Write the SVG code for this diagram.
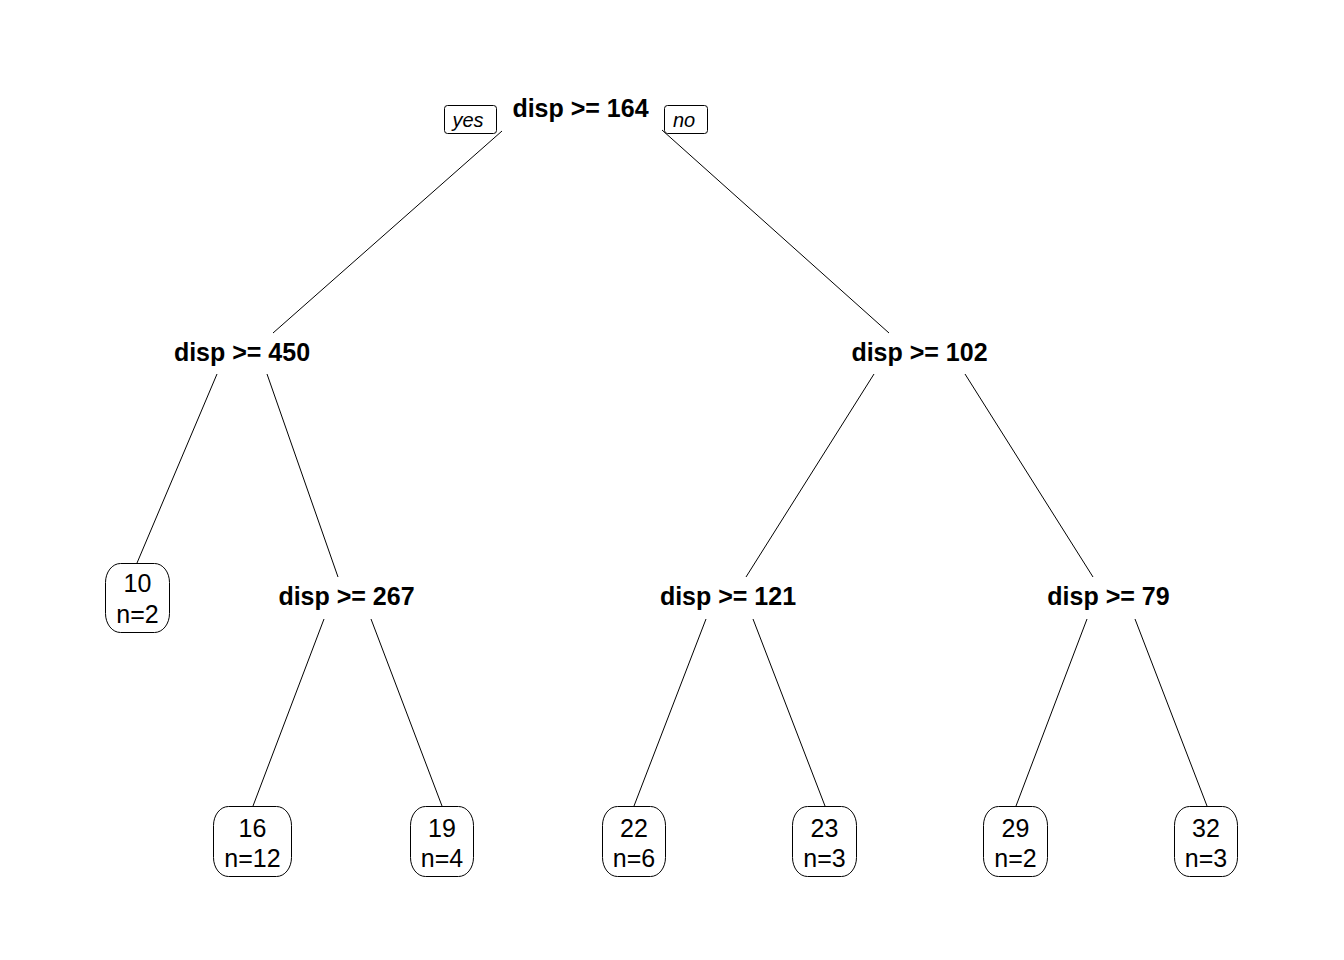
<svg xmlns="http://www.w3.org/2000/svg" width="1344" height="960" viewBox="0 0 1344 960">
<style>
.split{font-family:"Liberation Sans",Arial,sans-serif;font-size:25px;font-weight:bold;text-anchor:middle;fill:#000}
.leaf{font-family:"Liberation Sans",Arial,sans-serif;font-size:25px;text-anchor:middle;fill:#000}
.yn{font-family:"Liberation Sans",Arial,sans-serif;font-size:20px;font-style:italic;text-anchor:middle;fill:#000}
.box{fill:#fff;stroke:#000;stroke-width:1}
.edge{stroke:#000;stroke-width:1;fill:none}
</style>
<rect width="1344" height="960" fill="#fff"/>
<g id="connectors">
<line class="edge" x1="502" y1="131" x2="273" y2="333"/>
<line class="edge" x1="662" y1="130" x2="889" y2="333"/>
<line class="edge" x1="217" y1="374" x2="137" y2="563"/>
<line class="edge" x1="267" y1="374" x2="338" y2="577"/>
<line class="edge" x1="874" y1="374" x2="746" y2="577"/>
<line class="edge" x1="965" y1="374" x2="1093" y2="577"/>
<line class="edge" x1="324" y1="619" x2="253" y2="806"/>
<line class="edge" x1="371" y1="619" x2="442" y2="806"/>
<line class="edge" x1="706" y1="619" x2="634" y2="806"/>
<line class="edge" x1="753" y1="619" x2="825" y2="806"/>
<line class="edge" x1="1087" y1="619" x2="1016" y2="806"/>
<line class="edge" x1="1135" y1="619" x2="1207" y2="806"/>
</g>
<g id="node-root">
<text class="split" x="580.5" y="117">disp &gt;= 164</text>
</g>
<g id="label-yes">
<rect class="box" x="444.5" y="105.5" width="52" height="28" rx="3"/>
<text class="yn" x="468" y="127">yes</text>
</g>
<g id="label-no">
<rect class="box" x="664.5" y="105.5" width="43" height="28" rx="3"/>
<text class="yn" x="684" y="127">no</text>
</g>
<g id="node-450">
<text class="split" x="242" y="361">disp &gt;= 450</text>
</g>
<g id="node-102">
<text class="split" x="919.5" y="361">disp &gt;= 102</text>
</g>
<g id="node-267">
<text class="split" x="346.5" y="605">disp &gt;= 267</text>
</g>
<g id="node-121">
<text class="split" x="728" y="605">disp &gt;= 121</text>
</g>
<g id="node-79">
<text class="split" x="1108.5" y="605">disp &gt;= 79</text>
</g>
<g id="leaf-10">
<rect class="box" x="105.5" y="563.5" width="64" height="69" rx="15" ry="19"/>
<text class="leaf" x="137.5" y="592">10</text>
<text class="leaf" x="137.5" y="623">n=2</text>
</g>
<g id="leaf-16">
<rect class="box" x="213.5" y="806.5" width="78" height="70" rx="15" ry="19"/>
<text class="leaf" x="252.5" y="837">16</text>
<text class="leaf" x="252.5" y="867">n=12</text>
</g>
<g id="leaf-19">
<rect class="box" x="410.5" y="806.5" width="63" height="70" rx="15" ry="19"/>
<text class="leaf" x="442" y="837">19</text>
<text class="leaf" x="442" y="867">n=4</text>
</g>
<g id="leaf-22">
<rect class="box" x="602.5" y="806.5" width="63" height="70" rx="15" ry="19"/>
<text class="leaf" x="634" y="837">22</text>
<text class="leaf" x="634" y="867">n=6</text>
</g>
<g id="leaf-23">
<rect class="box" x="792.5" y="806.5" width="64" height="70" rx="15" ry="19"/>
<text class="leaf" x="824.5" y="837">23</text>
<text class="leaf" x="824.5" y="867">n=3</text>
</g>
<g id="leaf-29">
<rect class="box" x="983.5" y="806.5" width="64" height="70" rx="15" ry="19"/>
<text class="leaf" x="1015.5" y="837">29</text>
<text class="leaf" x="1015.5" y="867">n=2</text>
</g>
<g id="leaf-32">
<rect class="box" x="1174.5" y="806.5" width="63" height="70" rx="15" ry="19"/>
<text class="leaf" x="1206" y="837">32</text>
<text class="leaf" x="1206" y="867">n=3</text>
</g>
</svg>
